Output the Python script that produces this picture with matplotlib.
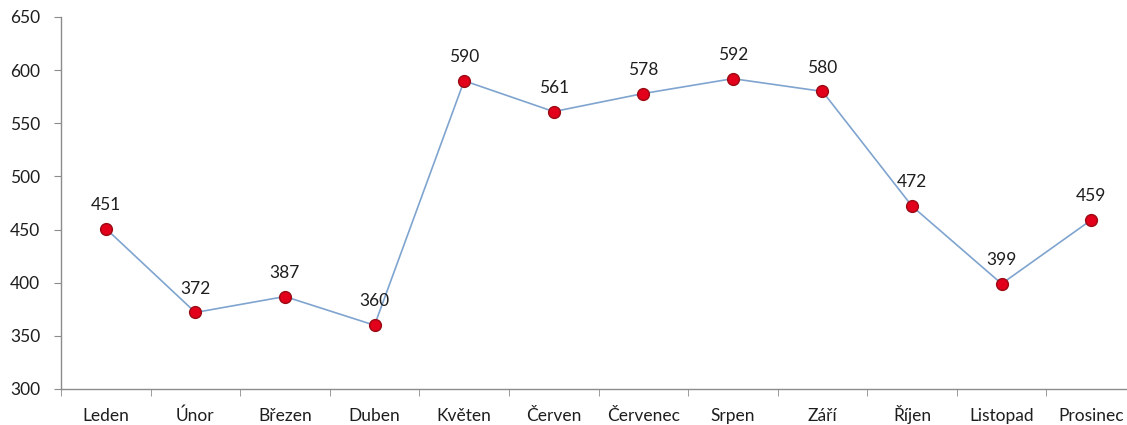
import matplotlib
matplotlib.use("Agg")
import matplotlib.pyplot as plt

# monthly values (Czech month names)
months = ["Leden", "Únor", "Březen", "Duben", "Květen", "Červen",
          "Červenec", "Srpen", "Září", "Říjen", "Listopad", "Prosinec"]
values = [451, 372, 387, 360, 590, 561, 578, 592, 580, 472, 399, 459]
y_ticks = [300, 350, 400, 450, 500, 550, 600, 650]

plt.rcParams["font.family"] = ["Lato", "DejaVu Sans"]
txt = "#1e1e1e"
fs = 12.5

W, H = 1127, 425
fig = plt.figure(figsize=(W / 100, H / 100), dpi=100)
# axes run slightly past the right edge, as in the original
left, right, top, bottom = 61, 1136, 17, 389
ax = fig.add_axes([left / W, 1 - bottom / H, (right - left) / W, (bottom - top) / H])

x = list(range(len(months)))
ax.plot(x, values, color="#7fa4cf", linewidth=1.2, zorder=2)
ax.plot(x, values, linestyle="none", marker="o", markersize=8.5,
        markerfacecolor="#e3001b", markeredgecolor="#9b0b14", markeredgewidth=1, zorder=3)

for xi, v in zip(x, values):
    ax.annotate(str(v), (xi, v), xytext=(0, 13.5), textcoords="offset points",
                ha="center", va="baseline", fontsize=fs, color=txt)

ax.set_xlim(-0.5, len(months) - 0.5)
ax.set_ylim(300, 650)
ax.set_yticks(y_ticks)
ax.set_xticks(x)
ax.set_xticklabels(months, fontsize=fs, color=txt, va="baseline")
ax.set_xticks([i - 0.5 for i in range(len(months) + 1)], minor=True)
ax.tick_params(axis="x", which="major", length=0, pad=23)
ax.tick_params(axis="x", which="minor", length=5, color="#8c8c8c", direction="out")
ax.tick_params(axis="y", length=5, color="#8c8c8c", labelsize=fs, labelcolor=txt, pad=10)

for s in ["top", "right"]:
    ax.spines[s].set_visible(False)
for s in ["left", "bottom"]:
    ax.spines[s].set_color("#8c8c8c")
    ax.spines[s].set_linewidth(1)

fig.savefig("out.png", dpi=100)
